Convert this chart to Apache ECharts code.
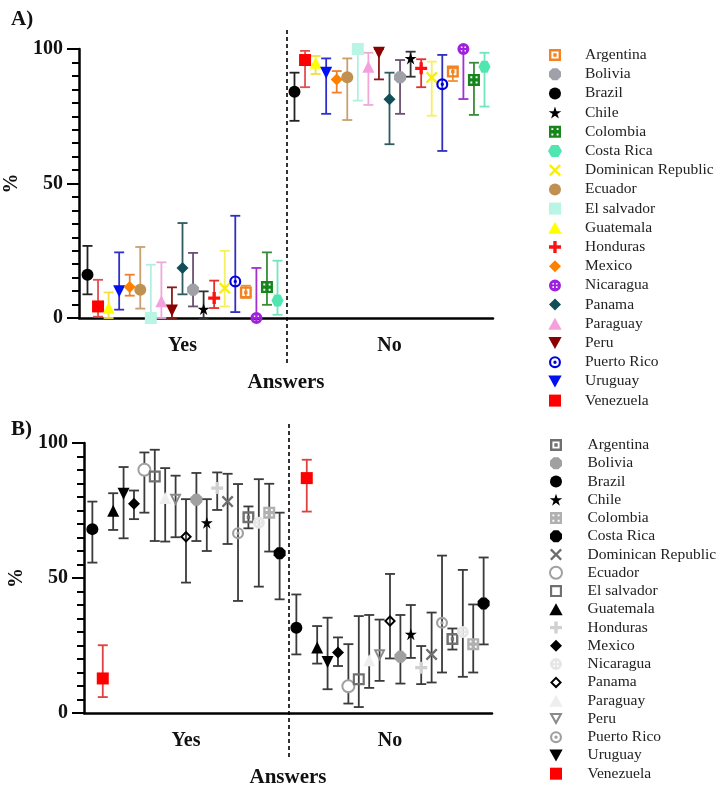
<!DOCTYPE html>
<html lang="en">
<head>
<meta charset="UTF-8">
<title>Answers by country</title>
<script src="https://cdn.jsdelivr.net/npm/echarts@6/dist/echarts.min.js"></script>
<style>
  html, body { margin: 0; padding: 0; background: #fff; }
  #main { width: 724px; height: 792px; }
</style>
</head>
<body>
<div id="main"></div>
<script>
// categories
var answers = ['Yes', 'No'];
// left-to-right order of the points inside each answer group
var countries = ['Brazil', 'Venezuela', 'Guatemala', 'Uruguay', 'Mexico', 'Ecuador', 'El salvador',
  'Paraguay', 'Peru', 'Panama', 'Bolivia', 'Chile', 'Honduras', 'Dominican Republic',
  'Puerto Rico', 'Argentina', 'Nicaragua', 'Colombia', 'Costa Rica'];
var legendOrder = ['Argentina', 'Bolivia', 'Brazil', 'Chile', 'Colombia', 'Costa Rica',
  'Dominican Republic', 'Ecuador', 'El salvador', 'Guatemala', 'Honduras', 'Mexico',
  'Nicaragua', 'Panama', 'Paraguay', 'Peru', 'Puerto Rico', 'Uruguay', 'Venezuela'];
var yTicks = [0, 50, 100];

// panel A (%), same order as countries
var aYesMean = [16.1, 4.3, 3.8, 9.9, 11.5, 10.5, 0, 6.2, 2.8, 18.6, 10.5, 3.3, 7.4, 11.1, 13.6, 9.5, 0, 11.5, 6.5];
var aYesLow  = [8.8, 0.5, 0, 3.1, 8.3, 3.5, 0, 0, 0, 8.8, 4.3, 0, 3.7, 4.3, 2.2, 7.5, 0, 4.9, 1.2];
var aYesHigh = [26.8, 14.2, 9.5, 24.4, 16.1, 26.4, 19.8, 20.7, 11.4, 35.3, 24.2, 9.9, 13.9, 25, 38, 12, 18.6, 24.4, 21.3];
var aNoMean  = [84.1, 95.9, 94.9, 91.2, 88.7, 89.5, 100, 93.4, 98.6, 81.3, 89.5, 96.5, 92.8, 89.4, 86.9, 91.6, 100, 88.5, 93.4];
var aNoLow   = [73.3, 85.8, 90.7, 75.9, 83.8, 73.6, 80.8, 79.2, 88.7, 64.6, 75.9, 89.7, 85.8, 75.2, 62.1, 88.1, 81.4, 75.5, 78.6];
var aNoHigh  = [91.2, 99.3, 97.4, 96.5, 91.8, 96.5, 100, 98.6, 100, 91.2, 95.9, 99, 96.2, 95.3, 97.8, 92.8, 100, 94.9, 98.6];

// panel B (%)
var bYesMean = [68.1, 12.8, 74.9, 81.2, 77.5, 90.1, 87.6, 79.6, 79, 65.3, 79, 70.5, 83.3, 78.3, 66.6, 72.5, 70.5, 74.2, 59.2];
var bYesLow  = [55.7, 5.9, 67.8, 64.7, 71.8, 74.2, 63.7, 63.5, 65.1, 48.3, 63.7, 60, 75.2, 62.6, 41.5, 68.4, 46.8, 59.8, 42.1];
var bYesHigh = [78.3, 25.1, 81.4, 91.1, 82.4, 96.5, 97.5, 90.7, 87.9, 79.2, 88.9, 79.2, 89.1, 88.6, 84.8, 76.5, 86.6, 84.9, 74.2];
var bNoMean  = [31.6, 87, 24.3, 18.9, 22.4, 9.9, 12.5, 19.5, 21.4, 34.1, 20.8, 29.2, 16.8, 21.7, 33.4, 27.4, 30, 25.5, 40.6];
var bNoLow   = [21.7, 74.6, 18.3, 8.8, 17.4, 3.5, 2.2, 9.3, 11.9, 20.2, 10.9, 20.4, 10.7, 11.3, 15, 23.5, 13.4, 15, 25.4];
var bNoHigh  = [43.9, 93.8, 32.2, 35.3, 28, 25.5, 35.9, 36.3, 34.6, 51.5, 36.3, 40, 24.8, 37.2, 58.3, 31.3, 53, 40.2, 57.6];

var SERIF = "'Liberation Serif', 'DejaVu Serif', serif";
var B_TAG = '\u200b';   // keeps panel B legend names apart from panel A
var DODGE = 0.051;      // horizontal step between countries, in category units

// all shapes as paths so the legend keeps their aspect
var SYM = {
  square: 'path://M0,0H10V10H0Z',
  squareOpen: 'path://M0,0H10V10H0Z M1.8,1.8V8.2H8.2V1.8Z',
  tri: 'path://M5,0L10,9H0Z',
  triDown: 'path://M0,0H10L5,9Z',
  triDownOpen: 'path://M0,0H10L5,9Z M2.6,1.5L5,5.8L7.4,1.5Z',
  diamond: 'path://M5,0L10,5L5,10L0,5Z',
  diamondOpen: 'path://M5,0L10,5L5,10L0,5Z M5,2.3L2.3,5L5,7.7L7.7,5Z',
  star: 'path://M5,0L6.2,3.6L10,3.6L6.9,5.8L8.1,9.5L5,7.2L1.9,9.5L3.1,5.8L0,3.6L3.8,3.6Z',
  plus: 'path://M3.6,0H6.4V3.6H10V6.4H6.4V10H3.6V6.4H0V3.6H3.6Z',
  cross: 'path://M0,1.4L1.4,0L5,3.6L8.6,0L10,1.4L6.4,5L10,8.6L8.6,10L5,6.4L1.4,10L0,8.6L3.6,5Z',
  hexagon: 'path://M2.5,0.7H7.5L10,5L7.5,9.3H2.5L0,5Z',
  octagon: 'path://M3,0H7L10,3V7L7,10H3L0,7V3Z',
  boxDot: 'path://M0,0H10V10H0Z M2,2V8H8V2Z M3.6,3.6H6.4V6.4H3.6Z',
  dice: 'path://M0,0H10V10H0Z M2,2V3.6H3.6V2Z M6.4,2V3.6H8V2Z M2,6.4V8H3.6V6.4Z M6.4,6.4V8H8V6.4Z',
  bullseye: 'path://M5,0A5,5,0,1,1,5,10A5,5,0,1,1,5,0Z M5,1.8A3.2,3.2,0,1,0,5,8.2A3.2,3.2,0,1,0,5,1.8Z M5,3.6A1.4,1.4,0,1,1,5,6.4A1.4,1.4,0,1,1,5,3.6Z',
  dotCircle: 'path://M5,0A5,5,0,1,1,5,10A5,5,0,1,1,5,0Z M2.9,2.9V4.2H4.2V2.9Z M5.8,2.9V4.2H7.1V2.9Z M2.9,5.8V7.1H4.2V5.8Z M5.8,5.8V7.1H7.1V5.8Z'
};

// marker / error bar look per country
var styleA = {
  'Argentina':          { symbol: SYM.boxDot,   color: '#F58220', bar: '#F09030' },
  'Bolivia':            { symbol: SYM.octagon,  color: '#A0A0A8', bar: '#6A5070' },
  'Brazil':             { symbol: 'circle',     color: '#000000', bar: '#222222' },
  'Chile':              { symbol: SYM.star,     color: '#000000', bar: '#333333' },
  'Colombia':           { symbol: SYM.dice,     color: '#14861C', bar: '#3A8A3A' },
  'Costa Rica':         { symbol: SYM.hexagon,  color: '#4FE6B0', bar: '#70E6BC' },
  'Dominican Republic': { symbol: SYM.cross,    color: '#F8F000', bar: '#F5F060' },
  'Ecuador':            { symbol: 'circle',     color: '#C09050', bar: '#C8A070' },
  'El salvador':        { symbol: SYM.square,   color: '#B8F5E5', bar: '#B0F0E0' },
  'Guatemala':          { symbol: SYM.tri,      color: '#FFFF00', bar: '#F0E040' },
  'Honduras':           { symbol: SYM.plus,     color: '#FF1010', bar: '#E03030' },
  'Mexico':             { symbol: SYM.diamond,  color: '#FF8000', bar: '#F08030' },
  'Nicaragua':          { symbol: SYM.dotCircle,color: '#A020E0', bar: '#A030D0' },
  'Panama':             { symbol: SYM.diamond,  color: '#104E58', bar: '#2F5A60' },
  'Paraguay':           { symbol: SYM.tri,      color: '#F5A0DC', bar: '#F0A8D8' },
  'Peru':               { symbol: SYM.triDown,  color: '#8B0000', bar: '#8B1A1A' },
  'Puerto Rico':        { symbol: SYM.bullseye, color: '#0000E0', bar: '#3030C0' },
  'Uruguay':            { symbol: SYM.triDown,  color: '#0010F0', bar: '#3030D0' },
  'Venezuela':          { symbol: SYM.square,   color: '#FF0000', bar: '#E05050' }
};
var styleB = {
  'Argentina':          { symbol: SYM.boxDot,     color: '#707070' },
  'Bolivia':            { symbol: SYM.octagon,    color: '#A0A0A0' },
  'Brazil':             { symbol: 'circle',       color: '#000000' },
  'Chile':              { symbol: SYM.star,       color: '#000000' },
  'Colombia':           { symbol: SYM.dice,       color: '#B0B0B0' },
  'Costa Rica':         { symbol: SYM.octagon,    color: '#000000' },
  'Dominican Republic': { symbol: SYM.cross,      color: '#6E6E6E' },
  'Ecuador':            { symbol: 'emptyCircle',  color: '#A0A0A0', border: 2 },
  'El salvador':        { symbol: SYM.squareOpen, color: '#707070' },
  'Guatemala':          { symbol: SYM.tri,        color: '#000000' },
  'Honduras':           { symbol: SYM.plus,       color: '#D0D0D0' },
  'Mexico':             { symbol: SYM.diamond,    color: '#000000' },
  'Nicaragua':          { symbol: SYM.dotCircle,  color: '#E6E6E6' },
  'Panama':             { symbol: SYM.diamondOpen,color: '#000000' },
  'Paraguay':           { symbol: SYM.tri,        color: '#EEEEEE' },
  'Peru':               { symbol: SYM.triDownOpen,color: '#8A8A8A' },
  'Puerto Rico':        { symbol: SYM.bullseye,   color: '#A0A0A0' },
  'Uruguay':            { symbol: SYM.triDown,    color: '#000000' },
  'Venezuela':          { symbol: SYM.square,     color: '#FF0000', bar: '#E04040' }
};

var gridA = { left: 79, top: 49, width: 414, height: 269, outerBoundsMode: 'none' };
var gridB = { left: 84, top: 443, width: 408, height: 270, outerBoundsMode: 'none' };

function errorBar(color) {
  return function (params, api) {
    var x = api.value(0);
    var lo = api.coord([x, api.value(1)]);
    var hi = api.coord([x, api.value(2)]);
    var cap = 5;
    var st = { stroke: color, lineWidth: 1.8 };
    return {
      type: 'group',
      children: [
        { type: 'line', shape: { x1: lo[0], y1: lo[1], x2: hi[0], y2: hi[1] }, style: st },
        { type: 'line', shape: { x1: hi[0] - cap, y1: hi[1], x2: hi[0] + cap, y2: hi[1] }, style: st },
        { type: 'line', shape: { x1: lo[0] - cap, y1: lo[1], x2: lo[0] + cap, y2: lo[1] }, style: st }
      ]
    };
  };
}

var series = [];
function addPanel(p, styles, tag, yesMean, yesLow, yesHigh, noMean, noLow, noHigh, defaultBar) {
  var bars = [], marks = [];
  countries.forEach(function (c, i) {
    var s = styles[c];
    var off = (i - 9) * DODGE;
    bars.push({
      type: 'custom', name: c + ' err' + p,
      xAxisIndex: p * 2 + 1, yAxisIndex: p, z: 2, silent: true,
      renderItem: errorBar(s.bar || defaultBar),
      data: [[0 + off, yesLow[i], yesHigh[i]], [1 + off, noLow[i], noHigh[i]]]
    });
    marks.push({
      type: 'scatter', name: c + tag,
      xAxisIndex: p * 2 + 1, yAxisIndex: p, z: 3,
      symbol: s.symbol, symbolSize: 12,
      itemStyle: { color: s.color, borderColor: s.color, borderWidth: s.border || 0, opacity: 1 },
      data: [[0 + off, yesMean[i]], [1 + off, noMean[i]]]
    });
  });
  series = series.concat(marks, bars);
}
addPanel(0, styleA, '', aYesMean, aYesLow, aYesHigh, aNoMean, aNoLow, aNoHigh, '#333');
addPanel(1, styleB, B_TAG, bYesMean, bYesLow, bYesHigh, bNoMean, bNoLow, bNoHigh, '#3A3A3A');

function catAxis(g) {
  return {
    type: 'category', gridIndex: g, data: answers,
    name: 'Answers', nameLocation: 'middle', nameGap: 54,
    nameTextStyle: { fontFamily: SERIF, fontWeight: 'bold', fontSize: 21, color: '#111' },
    axisLine: { onZero: false, lineStyle: { color: '#000', width: 2.5 } },
    axisTick: { alignWithLabel: true, length: 6, lineStyle: { color: '#000', width: 2.5 } },
    axisLabel: { margin: 18, fontFamily: SERIF, fontWeight: 'bold', fontSize: 20, color: '#111' },
    splitLine: { show: false }
  };
}
function posAxis(g) {
  return { type: 'value', gridIndex: g, min: -0.5, max: 1.5, show: false, splitLine: { show: false } };
}
function pctAxis(g) {
  return {
    type: 'value', gridIndex: g, min: yTicks[0], max: yTicks[yTicks.length - 1], interval: yTicks[1] - yTicks[0],
    name: '%', nameLocation: 'middle', nameGap: 51, nameRotate: 90,
    nameTextStyle: { fontFamily: SERIF, fontWeight: 'bold', fontSize: 20, color: '#111' },
    axisLine: { show: true, onZero: false, lineStyle: { color: '#000', width: 2.5 } },
    axisTick: { show: true, length: 12, lineStyle: { color: '#000', width: 2 } },
    minorTick: { show: true, splitNumber: 10, length: 7, lineStyle: { color: '#000', width: 2 } },
    axisLabel: { margin: 16, fontFamily: SERIF, fontWeight: 'bold', fontSize: 20, color: '#111' },
    splitLine: { show: false }
  };
}

function divider(g) {
  var x = g.left + g.width / 2 + 1;
  return {
    type: 'line', silent: true,
    shape: { x1: x, y1: g.top - 19, x2: x, y2: g.top + g.height + 47 },
    style: { stroke: '#333', lineWidth: 2, lineDash: [4, 3] }
  };
}

var legendText = { fontFamily: SERIF, fontSize: 15.5, color: '#222', lineHeight: 15 };

var chart = echarts.init(document.getElementById('main'));
chart.setOption({
  animation: false,
  backgroundColor: '#fff',
  title: [
    { text: 'A)', left: 6, top: 4, textStyle: { fontFamily: SERIF, fontWeight: 'bold', fontSize: 21, color: '#111' } },
    { text: 'B)', left: 6, top: 414, textStyle: { fontFamily: SERIF, fontWeight: 'bold', fontSize: 21, color: '#111' } }
  ],
  grid: [gridA, gridB],
  xAxis: [catAxis(0), posAxis(0), catAxis(1), posAxis(1)],
  yAxis: [pctAxis(0), pctAxis(1)],
  legend: [
    {
      data: legendOrder, orient: 'vertical', left: 548, top: 47, padding: 0,
      itemWidth: 50, itemHeight: 12, itemGap: 3.2, selectedMode: false,
      textStyle: legendText
    },
    {
      data: legendOrder.map(function (n) { return n + B_TAG; }),
      orient: 'vertical', left: 549, top: 437, padding: 0,
      itemWidth: 53, itemHeight: 12, itemGap: 2.26, selectedMode: false,
      formatter: function (n) { return n.replace(B_TAG, ''); },
      textStyle: legendText
    }
  ],
  graphic: [divider(gridA), divider(gridB)],
  series: series
});
</script>
</body>
</html>
